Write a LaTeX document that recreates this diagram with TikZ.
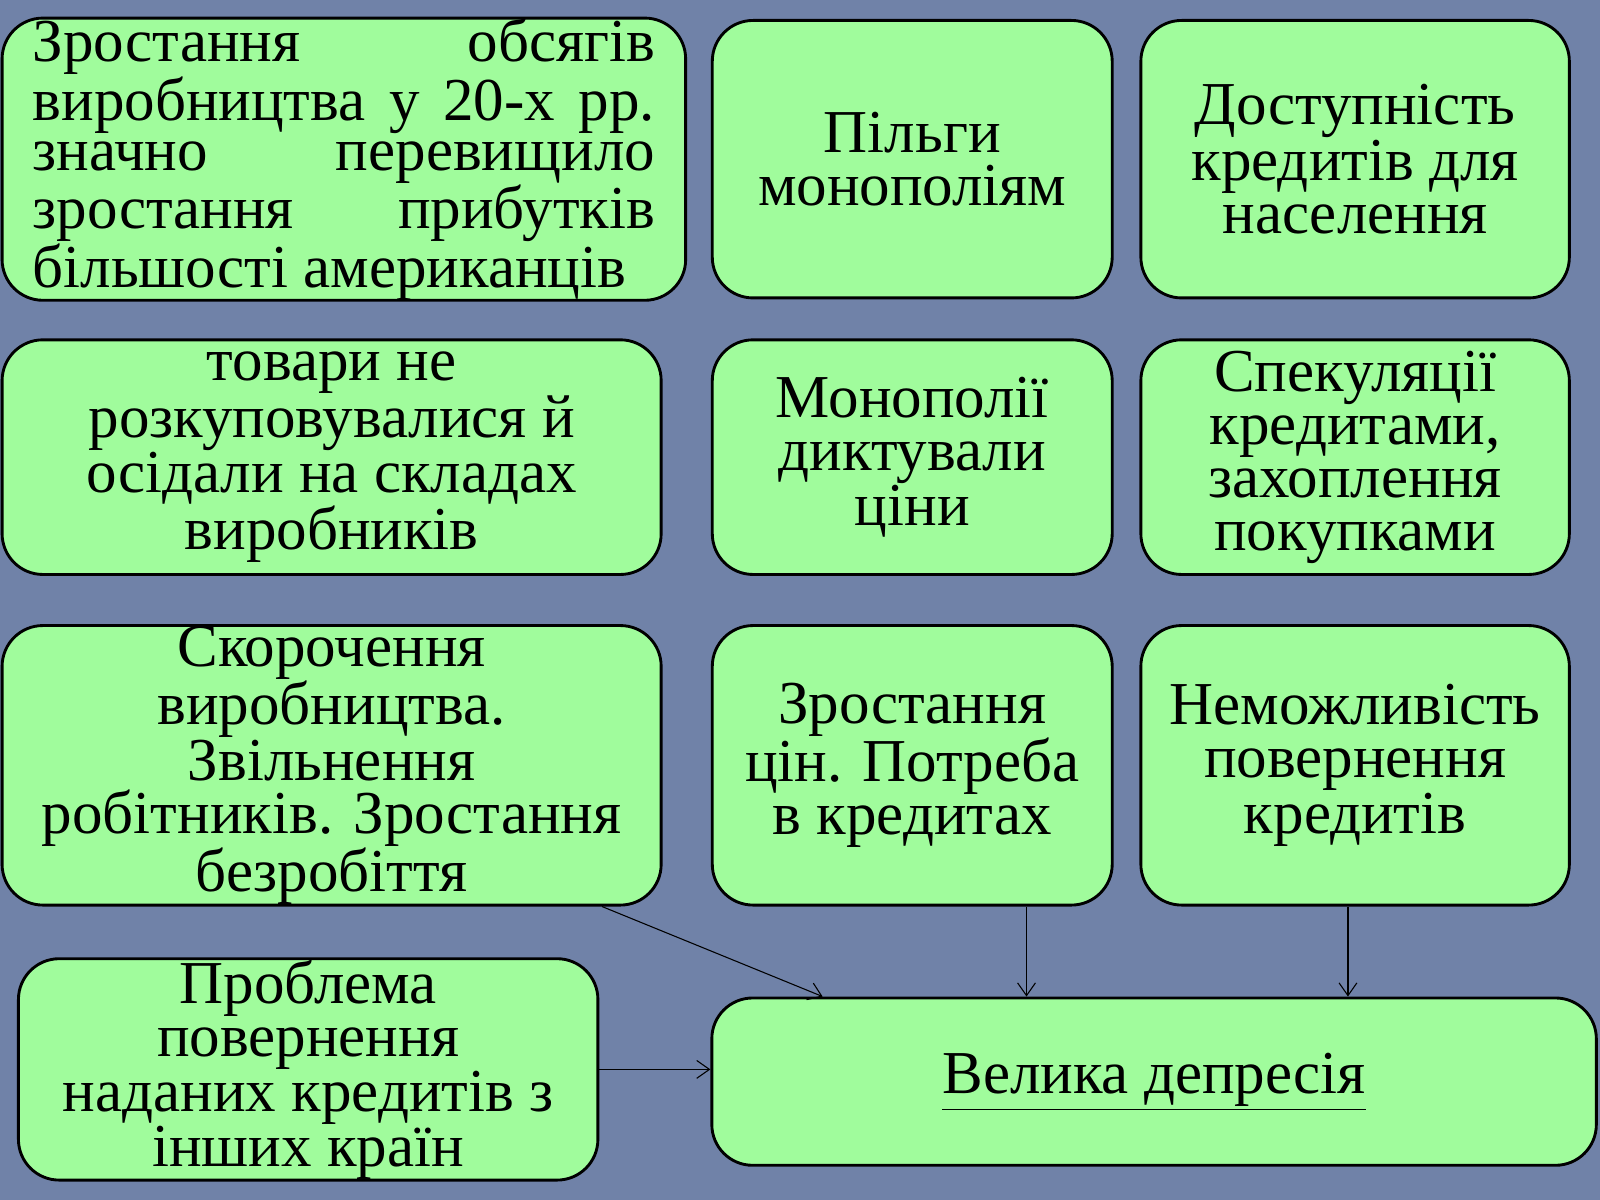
\documentclass[tikz,border=0pt]{standalone}
\usepackage{fontspec}
\setmainfont{Liberation Serif}
\usetikzlibrary{arrows.meta}
\definecolor{bgc}{HTML}{7082A8}
\definecolor{boxc}{HTML}{A0FC9C}
\tikzset{
 box/.style={draw=black,line width=1.6pt,fill=boxc,rounded corners=0.8cm,align=center,inner sep=0pt,
   font=\fontsize{34}{29.5}\selectfont},
 arr/.style={-{Straight Barb[length=2.5mm,width=3.5mm]},line width=0.6pt}
}
\begin{document}
\begin{tikzpicture}[x=0.02cm,y=-0.02cm]
\fill[bgc] (0,0) rectangle (1568,1176);
\useasboundingbox (0,0) rectangle (1568,1176);
\node[box,minimum width=13.4cm,minimum height=5.44cm,font=\fontsize{34}{28}\selectfont] (n1) at (337,156) {%
\makebox[12.2cm][s]{Зростання обсягів}\\
\makebox[12.2cm][s]{виробництва у 20-х рр.}\\
\makebox[12.2cm][s]{значно перевищило}\\
\makebox[12.2cm][s]{зростання прибутків}\\
\makebox[12.2cm][l]{більшості американців}};
\node[box,minimum width=7.84cm,minimum height=5.44cm] (n2) at (894,156) {Пільги\\монополіям};
\node[box,minimum width=8.4cm,minimum height=5.44cm] (n3) at (1328,156) {Доступність\\кредитів для\\населення};
\node[box,minimum width=12.92cm,minimum height=4.6cm] (n4) at (325,448) {товари не\\розкуповувалися й\\осідали на складах\\виробників};
\node[box,minimum width=7.84cm,minimum height=4.6cm] (n5) at (894,448) {Монополії\\диктували\\ціни};
\node[box,minimum width=8.4cm,minimum height=4.6cm] (n6) at (1328,448) {Спекуляції\\кредитами,\\захоплення\\покупками};
\node[box,minimum width=12.92cm,minimum height=5.48cm] (n7) at (325,750) {Скорочення\\виробництва.\\Звільнення\\робітників. Зростання\\безробіття};
\node[box,minimum width=7.84cm,minimum height=5.48cm] (n8) at (894,750) {Зростання\\цін. Потреба\\в кредитах};
\node[box,minimum width=8.4cm,minimum height=5.48cm] (n9) at (1328,750) {Неможливість\\повернення\\кредитів};
\node[box,minimum width=11.36cm,minimum height=4.34cm] (n10) at (302,1048) {Проблема\\повернення\\наданих кредитів з\\інших країн};
\node[box,minimum width=17.34cm,minimum height=3.28cm] (n11) at (1131,1060) {\underline{Велика депресія}};
\draw[arr] ([xshift=5.3cm]n7.south) -- ([xshift=2.2cm]n11.north west);
\draw[arr] ([xshift=2.24cm]n8.south) -- ([xshift=2.24cm]n8.south |- n11.north);
\draw[arr] ([xshift=-0.14cm]n9.south) -- ([xshift=-0.14cm]n9.south |- n11.north);
\draw[arr] (n10.east) -- (n10.east -| n11.west);
\end{tikzpicture}
\end{document}
